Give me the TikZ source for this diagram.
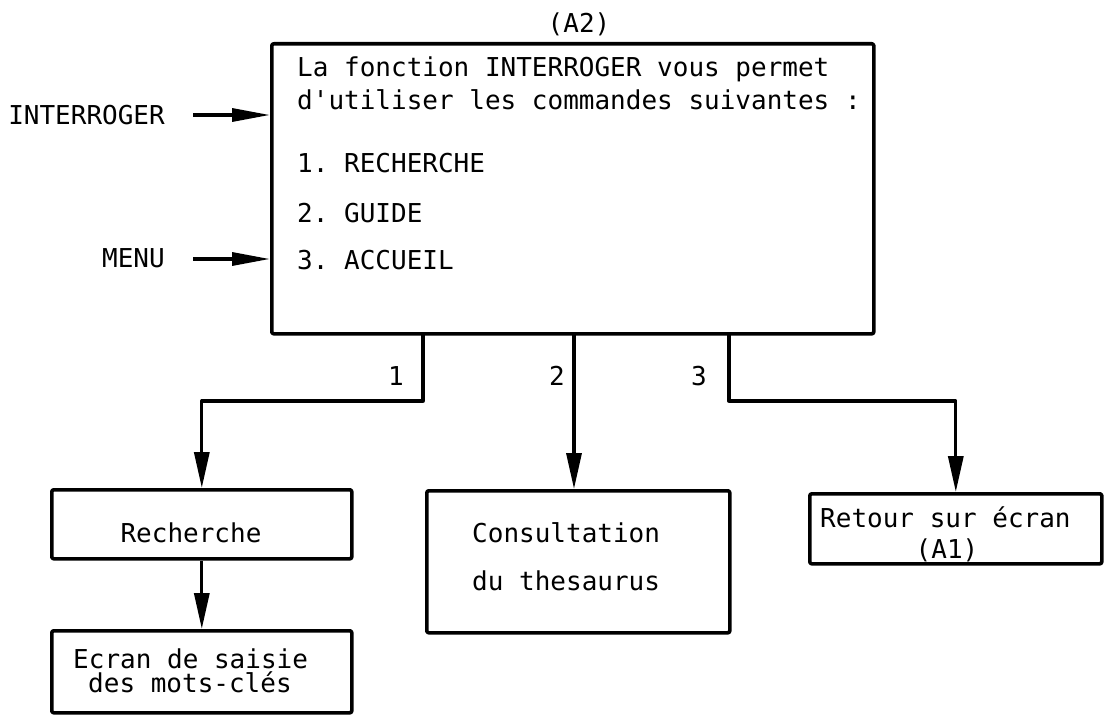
\documentclass[tikz,border=0pt]{standalone}
\usepackage{fontspec}
\setmonofont{DejaVu Sans Mono}
\usetikzlibrary{arrows.meta}
\begin{document}
\begin{tikzpicture}[x=1pt,y=-1pt,
  box/.style={draw, line width=3.6pt, line join=round, rounded corners=2pt, inner sep=0pt, anchor=north west},
  txt/.style={inner sep=0pt, font=\ttfamily\fontsize{26}{30}\selectfont},
  conn/.style={line width=3.3pt, line join=round},
  arr/.style={conn, -{Triangle[length=36pt,width=15pt]}},
  harr/.style={conn, -{Triangle[length=38pt,width=13pt]}}]
\useasboundingbox (0,0) rectangle (1108,719);
% boxes
\node[box, minimum width=602pt, minimum height=290pt] (main) at (270,42) {};
\node[box, minimum width=300pt, minimum height=69pt] (rech) at (50,488) {};
\node[box, minimum width=300pt, minimum height=82pt] (ecran) at (50,629) {};
\node[box, minimum width=303pt, minimum height=142pt] (cons) at (425,489) {};
\node[box, minimum width=292pt, minimum height=70pt] (ret) at (808,492) {};
% texts in main box
\node[txt, anchor=base] (a2) at (579,33) {(A2)};
\node[txt, anchor=base west] (l1) at (297,77) {La fonction INTERROGER vous permet};
\node[txt, anchor=base west] (l2) at (297,110) {d'utiliser les commandes suivantes :};
\node[txt, anchor=base west] (l3) at (297,173) {1. RECHERCHE};
\node[txt, anchor=base west] (l4) at (297,223) {2. GUIDE};
\node[txt, anchor=base west] (l5) at (297,270) {3. ACCUEIL};
% side labels
\node[txt, anchor=base east] (interr) at (165,125) {INTERROGER};
\node[txt, anchor=base east] (menu) at (165,268) {MENU};
\coordinate (ia) at (193,115);
\coordinate (ma) at (193,259);
\draw[harr] (ia) -- (ia -| main.west);
\draw[harr] (ma) -- (ma -| main.west);
% branch labels
\node[txt, anchor=base east] (n1) at (404,385) {1};
\node[txt, anchor=base east] (n2) at (565,385) {2};
\node[txt, anchor=base east] (n3) at (707,385) {3};
% branches
\coordinate (b1) at (423,332);
\coordinate (b2) at (574,332);
\coordinate (b3) at (729,332);
\draw[arr] (b1) -- (423,401) -| (rech.north);
\draw[arr] (b2) -- (b2 |- cons.north);
\draw[arr] (b3) -- (729,401) -| (ret.north);
\draw[arr] (rech.south) -- (ecran.north);
% texts in lower boxes
\node[txt, anchor=base] (trech) at (191,542) {Recherche};
\node[txt, anchor=base west] (te1) at (73,668) {Ecran de saisie};
\node[txt, anchor=base west] (te2) at (88,692) {des mots-clés};
\node[txt, anchor=base west] (tc1) at (472,542) {Consultation};
\node[txt, anchor=base west] (tc2) at (472,590) {du thesaurus};
\node[txt, anchor=base west] (tr1) at (820,527) {Retour sur écran};
\node[txt, anchor=base] (tr2) at (947,558) {(A1)};
\end{tikzpicture}
\end{document}
